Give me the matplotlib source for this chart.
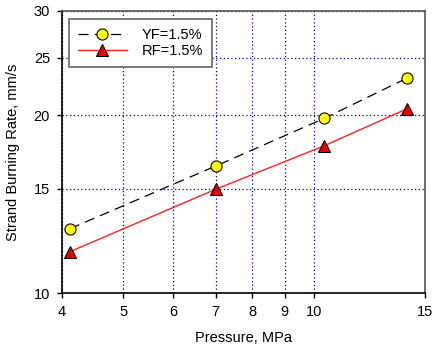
import matplotlib
matplotlib.use("Agg")
import matplotlib.pyplot as plt
from matplotlib.ticker import FixedLocator, FixedFormatter, NullLocator

plt.rcParams["font.family"] = ["Liberation Sans", "DejaVu Sans"]

# data (log-log axes)
pressure = [4.12, 7.0, 10.4, 14.05]
yf_rate = [12.85, 16.4, 19.75, 23.1]
rf_rate = [11.75, 14.98, 17.75, 20.5]

x_ticks = [4, 5, 6, 7, 8, 9, 10, 15]
y_ticks = [10, 15, 20, 25, 30]

fig = plt.figure(figsize=(4.32, 3.47), dpi=100)
ax = fig.add_axes([0.1435, 0.1556, 0.8403, 0.8127])

ax.plot(pressure, yf_rate, color="black", linestyle=(0, (8, 5)), linewidth=0.9,
        marker="o", markersize=8, markerfacecolor="#FFFF00", markeredgecolor="black",
        markeredgewidth=0.8, label="YF=1.5%", zorder=4)
ax.plot(pressure, rf_rate, color="#FF2020", linestyle="-", linewidth=1.0,
        marker="^", markersize=8.5, markerfacecolor="#EE0000", markeredgecolor="black",
        markeredgewidth=0.8, label="RF=1.5%", zorder=4)

ax.set_xscale("log")
ax.set_yscale("log")
ax.set_xlim(4, 15)
ax.set_ylim(10, 30)

ax.xaxis.set_major_locator(FixedLocator(x_ticks))
ax.xaxis.set_major_formatter(FixedFormatter([str(t) for t in x_ticks]))
ax.xaxis.set_minor_locator(NullLocator())
ax.yaxis.set_major_locator(FixedLocator(y_ticks))
ax.yaxis.set_major_formatter(FixedFormatter([str(t) for t in y_ticks]))
ax.yaxis.set_minor_locator(NullLocator())

ax.grid(True, which="major", color="#000080", linestyle=(0, (1, 2)), linewidth=0.9)
ax.tick_params(direction="out", length=3.6, width=1, labelsize=10.5, pad=5, colors="black")

for side in ("top", "right"):
    ax.spines[side].set_color("#555555")
    ax.spines[side].set_linewidth(1.2)
for side in ("left", "bottom"):
    ax.spines[side].set_color("black")
    ax.spines[side].set_linewidth(1.2)

ax.set_xlabel("Pressure, MPa", fontsize=10.5, labelpad=9)
ax.set_ylabel("Strand Burning Rate, mm/s", fontsize=10.5, labelpad=10)

leg = ax.legend(loc="upper left", bbox_to_anchor=(0.019, 0.972), borderaxespad=0,
                fontsize=10.5, handlelength=3.4, handletextpad=1.0, borderpad=0.6,
                labelspacing=0.15, fancybox=False, framealpha=1, edgecolor="#666666")
leg.get_frame().set_linewidth(1.2)

fig.savefig("out.png", dpi=100)
